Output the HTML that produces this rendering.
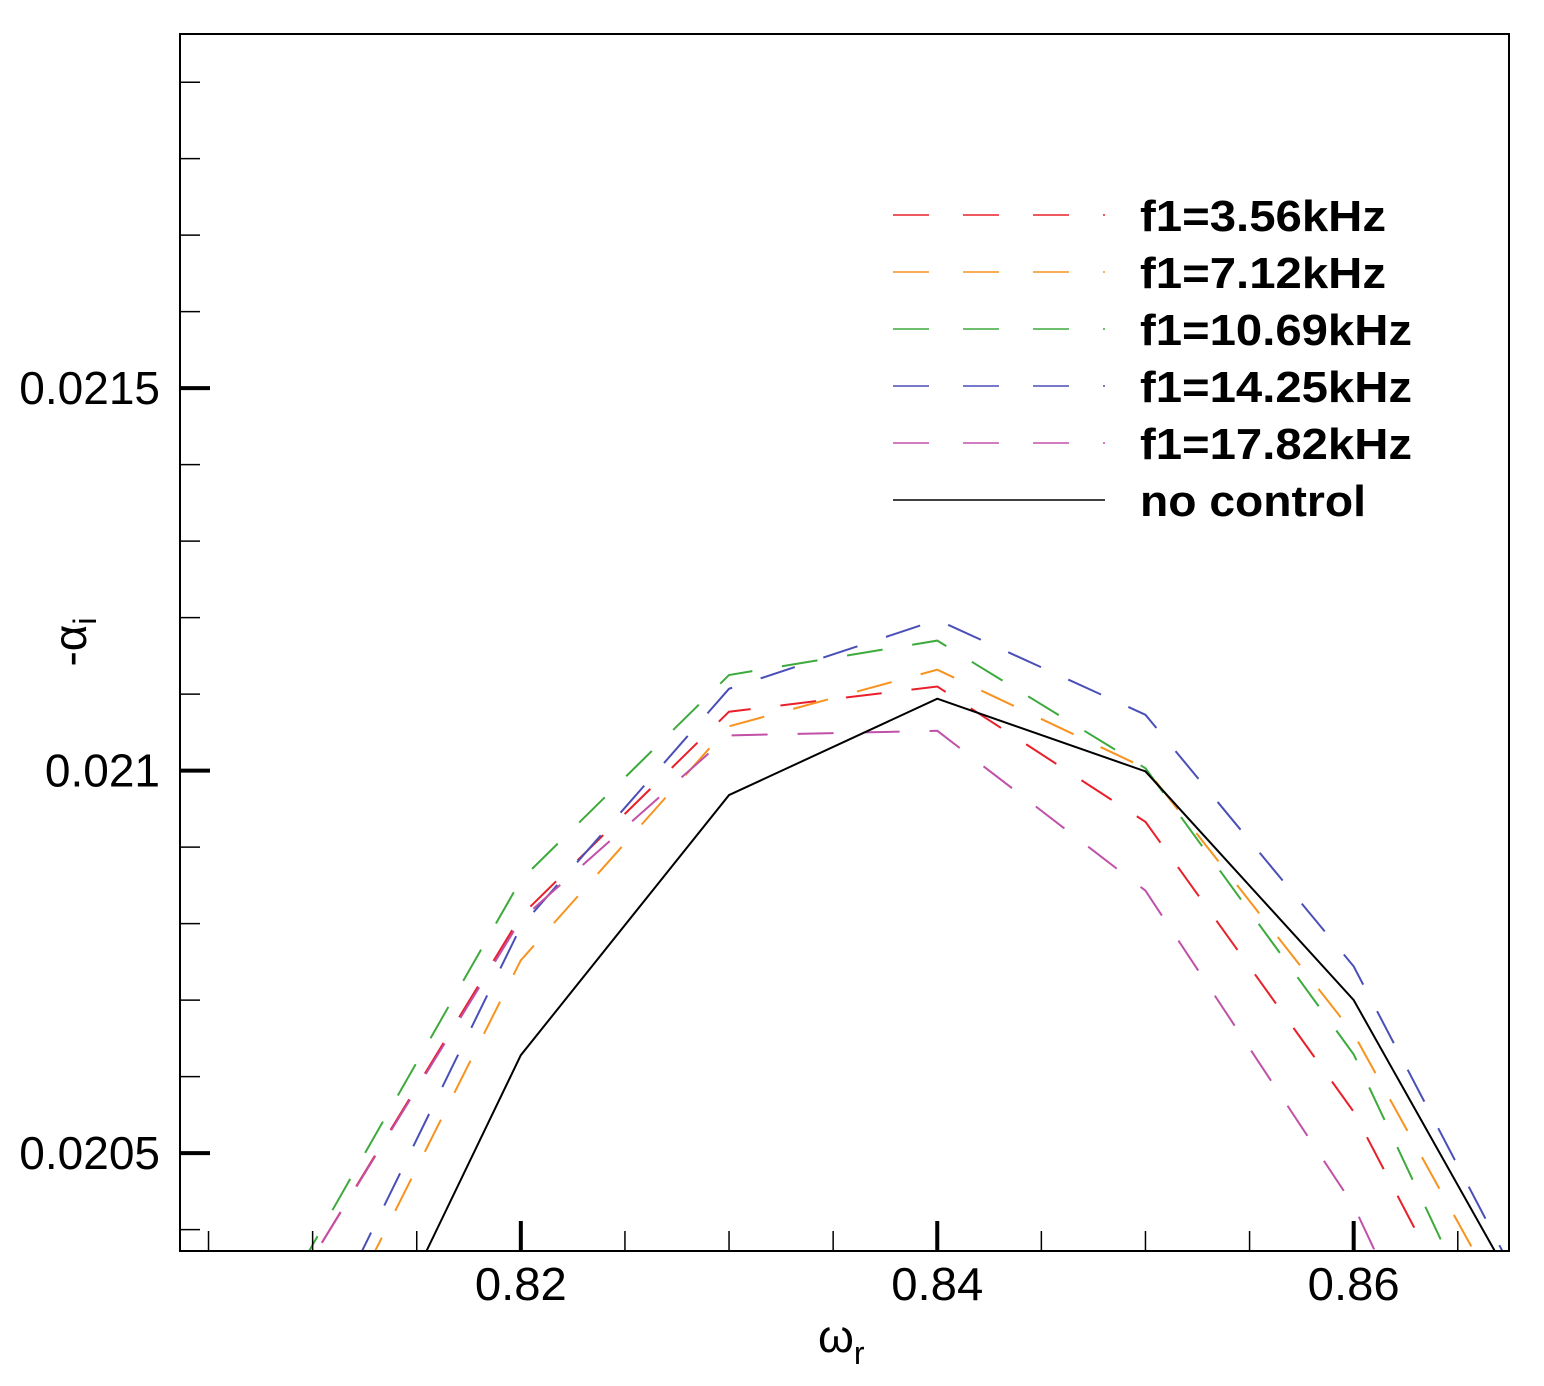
<!DOCTYPE html>
<html><head><meta charset="utf-8"><style>
html,body{margin:0;padding:0;background:#fff;overflow:hidden;width:1544px;height:1386px;}
svg{display:block;font-family:"Liberation Sans",Arial,sans-serif;}
</style></head><body>
<svg id="chart" width="1544" height="1386" viewBox="0 0 1544 1386">
<defs><clipPath id="clip"><rect x="180" y="34" width="1329" height="1217"/></clipPath></defs>
<g id="series" clip-path="url(#clip)"></g>
<rect x="180" y="34" width="1329" height="1217" fill="none" stroke="#000" stroke-width="2"/>
<g id="axes"></g>
<text x="0" y="0" transform="translate(86,642) rotate(-90)" text-anchor="middle" font-size="46">-α<tspan font-size="32" dy="10">i</tspan></text>
<text x="818" y="1352" font-size="46">ω<tspan font-size="32" dy="12">r</tspan></text>
<g id="legend"></g>
</svg>
<script>
const omega = [0.80, 0.81, 0.82, 0.83, 0.84, 0.85, 0.86, 0.87];
const f356 = [0.01985, 0.020363, 0.02081, 0.021077, 0.02111, 0.020933, 0.020554, 0.020033];
const f712 = [0.01965, 0.020209, 0.020752, 0.021058, 0.021132, 0.021003, 0.020656, 0.020164];
const f1069 = [0.01990, 0.02038, 0.020857, 0.021125, 0.02117, 0.021003, 0.020629, 0.02005];
const f1425 = [0.01965, 0.02024, 0.020796, 0.021107, 0.021197, 0.021073, 0.020744, 0.020223];
const f1782 = [0.01985, 0.020363, 0.020805, 0.021046, 0.021052, 0.020843, 0.020431, 0.019853];
const noControl = [0.0195, 0.020063, 0.020628, 0.020968, 0.021094, 0.020999, 0.0207, 0.020216];
const seriesNames = ["f1=3.56kHz","f1=7.12kHz","f1=10.69kHz","f1=14.25kHz","f1=17.82kHz","no control"];
const seriesColors = ["#e8202a","#f7931e","#3daa3d","#4a4fb8","#c050a8","#000"];
const xTicks = [0.82, 0.84, 0.86];
const yTicks = [0.0205, 0.021, 0.0215];
const yTickLabels = ["0.0205","0.021","0.0215"];

const X0=180,X1=1509,Y0=34,Y1=1251;
const xMin=0.80363,xMax=0.86746,yMin=0.020372,yMax=0.021963;
const sx=v=>X0+(v-xMin)/(xMax-xMin)*(X1-X0);
const sy=v=>Y1-(v-yMin)/(yMax-yMin)*(Y1-Y0);
const NS="http://www.w3.org/2000/svg";
function mk(t,attrs,parent){const e=document.createElementNS(NS,t);for(const k in attrs)e.setAttribute(k,attrs[k]);parent.appendChild(e);return e;}

const sg=document.getElementById('series');
const allSeries=[f356,f712,f1069,f1425,f1782,noControl];
const slugs=["f1-3-56khz","f1-7-12khz","f1-10-69khz","f1-14-25khz","f1-17-82khz","no-control"];
allSeries.forEach((s,i)=>{
  const pts=s.map((v,j)=>sx(omega[j]).toFixed(1)+","+sy(v).toFixed(1)).join(" ");
  const p=mk('polyline',{points:pts,fill:'none',stroke:seriesColors[i],'stroke-width':2},sg);
  if(i<5)p.setAttribute('stroke-dasharray','36 30');
  
  
});

const ax=document.getElementById('axes');
for(let k=161;k<=173;k++){
  const vv=k/200;
  const major=xTicks.some(t=>Math.abs(t-vv)<1e-9);
  const x=sx(vv);
  const t=mk('line',{x1:x,x2:x,y1:Y1,y2:Y1-(major?30:20),stroke:'#000','stroke-width':major?4:1.5},ax);
  
  
}
xTicks.forEach(v=>{
  const t=mk('text',{x:sx(v),y:1300,'text-anchor':'middle','font-size':46,textLength:92,lengthAdjust:'spacingAndGlyphs'},ax);
  t.textContent=v.toFixed(2);
  
  
});
for(let k=204;k<=219;k++){
  const vv=k/10000;
  if(vv<yMin||vv>yMax)continue;
  const major=yTicks.some(t=>Math.abs(t-vv)<1e-9);
  const y=sy(vv);
  const t=mk('line',{x1:X0,x2:X0+(major?30:20),y1:y,y2:y,stroke:'#000','stroke-width':major?4:1.5},ax);
  
  
}
yTicks.forEach((v,i)=>{
  const t=mk('text',{x:160,y:sy(v)+16,'text-anchor':'end','font-size':46},ax);
  t.textContent=yTickLabels[i];
  
  
});

const lg=document.getElementById('legend');
const legendWidths=[246,246,272,272,272,226];
seriesNames.forEach((n,i)=>{
  const y=215+i*57;
  const l=mk('line',{x1:893,x2:1105,y1:y,y2:y,stroke:seriesColors[i],'stroke-width':1.5},lg);
  if(i<5)l.setAttribute('stroke-dasharray','36 34');
  
  
  const t=mk('text',{x:1140,y:y+16,'font-size':44,'font-weight':'bold',textLength:legendWidths[i],lengthAdjust:'spacingAndGlyphs'},lg);
  t.textContent=n;
  
  
});
</script>
</body></html>
